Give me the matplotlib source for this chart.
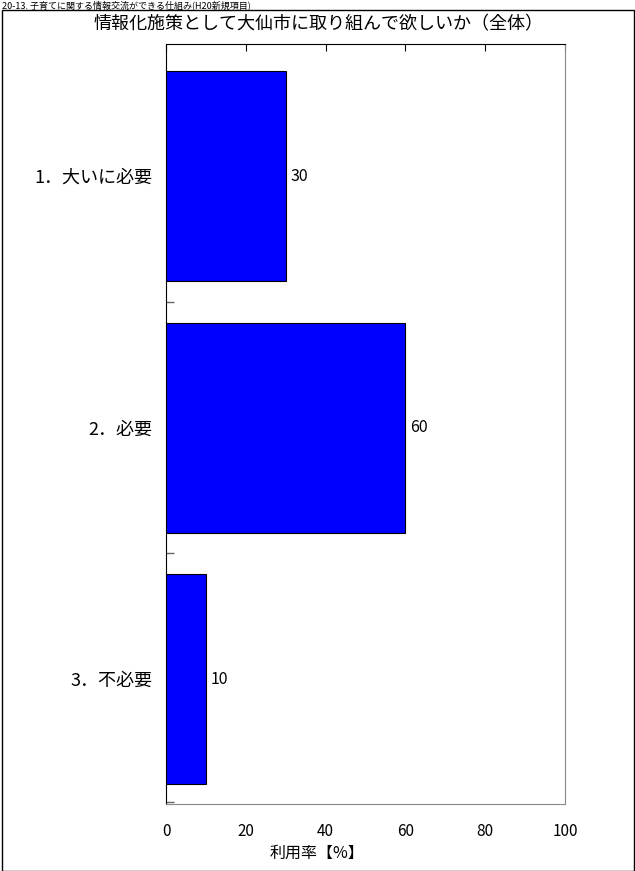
import matplotlib.pyplot as plt
from matplotlib.patches import Rectangle

plt.rcParams['font.family'] = ['Noto Sans CJK JP', 'DejaVu Sans']

categories = ['1．大いに必要', '2．必要', '3．不必要']
values = [30, 60, 10]
xticks = [0, 20, 40, 60, 80, 100]

W, H = 635, 871
fig = plt.figure(figsize=(W / 100, H / 100), dpi=100)
fig.patch.set_facecolor('white')

# outer frame
fig.patches.append(Rectangle((2 / W, 0.5 / H), 632 / W, 1 - 10.5 / H,
                             transform=fig.transFigure, fill=False,
                             edgecolor='black', lw=1))
fig.text(2 / W, 1 - 0.5 / H, '20-13. 子育てに関する情報交流ができる仕組み(H20新規項目)',
         fontsize=6.5, ha='left', va='top')
fig.text(319 / W, 1 - 24 / H, '情報化施策として大仙市に取り組んで欲しいか（全体）',
         fontsize=13, ha='center', va='center')

ax = fig.add_axes([166 / W, 67 / H, 399 / W, 760 / H])
ypos = list(range(len(categories)))
ax.barh(ypos, values, height=0.835, color='#0000ff', edgecolor='black', lw=0.8)
for y, v in zip(ypos, values):
    ax.text(v + 1.2, y, str(v), ha='left', va='center', fontsize=11.5)

ax.set_xlim(0, 100)
ax.set_ylim(2.497, -0.525)
ax.set_xticks(xticks)
ax.set_xticklabels([str(t) for t in xticks], fontsize=11)
ax.tick_params(axis='x', top=True, bottom=True, direction='in', length=0,
               pad=14, colors='black')
for t in ax.xaxis.get_major_ticks():
    t.tick2line.set_markersize(5)
    t.tick2line.set_color('#666666')

ax.set_yticks(ypos)
ax.set_yticklabels(categories, fontsize=13)
ax.tick_params(axis='y', length=0, pad=10)
ax.set_yticks([0.5, 1.5, 2.49], minor=True)
ax.tick_params(axis='y', which='minor', direction='in', length=6,
               color='#666666', width=1)

ax.spines['left'].set_color('black')
ax.spines['top'].set_color('black')
ax.spines['right'].set_color('#888888')
ax.spines['bottom'].set_color('#888888')

fig.text(317 / W, 1 - 853 / H, '利用率【%】', fontsize=11.5, ha='center', va='center')

fig.savefig('out.png', dpi=100)
